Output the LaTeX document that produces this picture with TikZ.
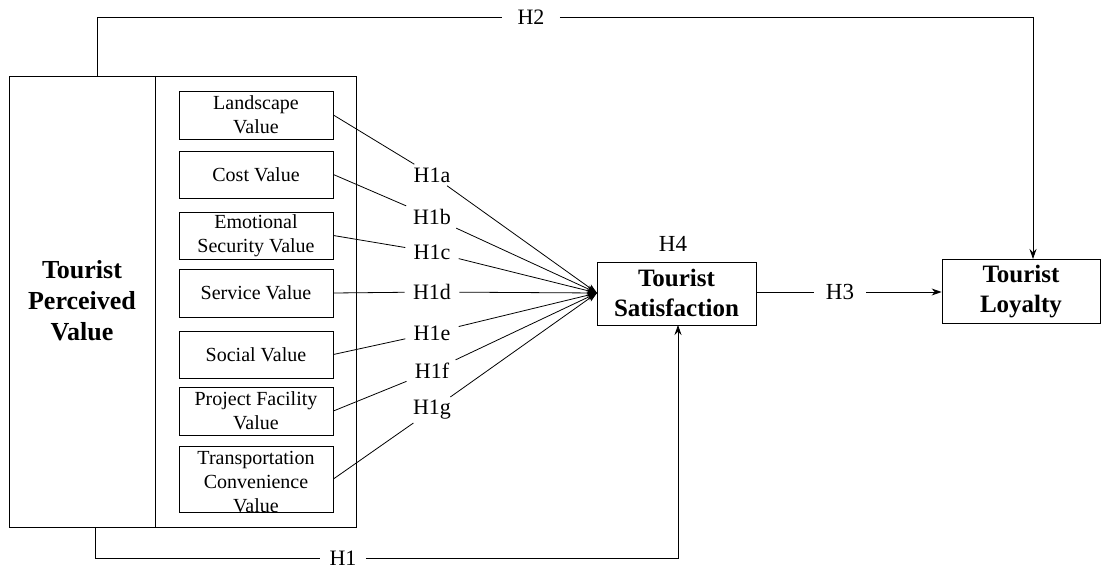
\documentclass[tikz,border=0pt]{standalone}
\usepackage{fontspec}
\setmainfont{Liberation Serif}
\usetikzlibrary{arrows.meta}
\begin{document}
\begin{tikzpicture}[x=1pt,y=-1pt,line width=0.8pt,
  vbox/.style={draw,minimum width=154pt,inner sep=0pt},
  vtext/.style={font=\fontsize{20}{24}\selectfont,align=center,inner sep=0pt},
  bigtext/.style={font=\bfseries\fontsize{25}{30}\selectfont,align=center,inner sep=0pt},
  hyp/.style={font=\fontsize{22}{24}\selectfont,inner xsep=8pt,inner ysep=3pt},
  arr/.style={-{Stealth[length=10pt,width=7pt]}}]
\useasboundingbox (0,0) rectangle (1119,572);
% outer box
\node[draw,minimum width=347pt,minimum height=451pt,inner sep=0pt] (outer) at (182.5,301.5) {};
\coordinate (divtop) at (155,76);
\coordinate (divbot) at (155,527);
\draw (divtop) -- (divbot);
\node[bigtext,font=\bfseries\fontsize{26}{31}\selectfont] (tpv) at (82,301) {Tourist\\Perceived\\Value};
% inner boxes
\node[vbox,minimum height=48pt] (b1) at (256,115) {};
\node[vbox,minimum height=47pt] (b2) at (256,174.5) {};
\node[vbox,minimum height=47pt] (b3) at (256,235.5) {};
\node[vbox,minimum height=48pt] (b4) at (256,293) {};
\node[vbox,minimum height=47pt] (b5) at (256,354.5) {};
\node[vbox,minimum height=48pt] (b6) at (256,411) {};
\node[vbox,minimum height=66pt] (b7) at (256,479) {};
\node[vtext] (t1) at (256,115) {Landscape\\Value};
\node[vtext] (t2) at (256,174.5) {Cost Value};
\node[vtext] (t3) at (256,235.5) {Emotional\\Security Value};
\node[vtext] (t4) at (256,293) {Service Value};
\node[vtext] (t5) at (256,354.5) {Social Value};
\node[vtext] (t6) at (256,411) {Project Facility\\Value};
\node[vtext] (t7) at (256,482) {Transportation\\Convenience\\Value};
% satisfaction and loyalty
\node[draw,minimum width=159pt,minimum height=63pt,inner sep=0pt] (sat) at (676.5,293.5) {};
\node[bigtext] (satt) at (676.5,293) {Tourist\\Satisfaction};
\node[draw,minimum width=158pt,minimum height=64pt,inner sep=0pt] (loy) at (1021,291) {};
\node[bigtext] (loyt) at (1021,292) {Tourist\\Loyalty};
\node[font=\fontsize{23}{24}\selectfont] (H4) at (673,244) {H4};
% hypothesis labels
\node[hyp] (h1a) at (432,175) {H1a};
\node[hyp] (h1b) at (432,217) {H1b};
\node[hyp] (h1c) at (432,252) {H1c};
\node[hyp] (h1d) at (432,292) {H1d};
\node[hyp] (h1e) at (432,333) {H1e};
\node[hyp] (h1f) at (432,371) {H1f};
\node[hyp] (h1g) at (432,410) {H1g};
\coordinate (conv) at (597,293);
\foreach \b/\h in {b1/h1a,b2/h1b,b3/h1c,b4/h1d,b5/h1e,b6/h1f,b7/h1g}{
  \draw (\b.east) -- (\h);
  \draw[arr] (\h) -- (conv);
}
% H3
\node[hyp,font=\fontsize{23}{24}\selectfont,inner xsep=12pt] (H3) at (840,292) {H3};
\draw (sat.east |- H3) -- (H3);
\draw[arr] (H3) -- (H3 -| loy.west);
% H2
\node[hyp,inner xsep=15pt] (H2) at (531,17) {H2};
\coordinate (h2s) at (97,76);
\coordinate (loyin) at (1033,259);
\draw (h2s) |- (H2);
\draw[arr] (H2) -| (loyin);
% H1
\node[hyp,inner xsep=9pt] (H1) at (343,558) {H1};
\coordinate (h1s) at (95,527);
\coordinate (satin) at (678,325);
\draw (h1s) |- (H1);
\draw[arr] (H1) -| (satin);
\end{tikzpicture}
\end{document}
